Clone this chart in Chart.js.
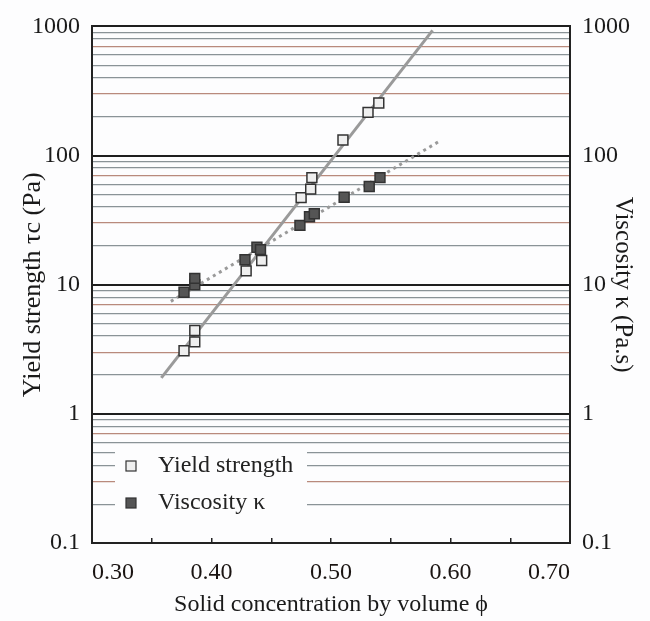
<!DOCTYPE html>
<html>
<head>
<meta charset="utf-8">
<script src="https://cdn.jsdelivr.net/npm/chart.js@4.4.0/dist/chart.umd.min.js"></script>
<style>
  html, body { margin: 0; padding: 0; background: #fdfdfe; }
  #wrap { width: 650px; height: 621px; }
</style>
</head>
<body>
<div id="wrap"><canvas id="c"></canvas></div>
<script>
// values
var phiYield = [0.377, 0.386, 0.386, 0.429, 0.442, 0.475, 0.483, 0.484, 0.510, 0.531, 0.540];
var yieldStrength = [3.08, 3.61, 4.42, 12.8, 15.4, 47.2, 55, 67.5, 132, 216, 255];
var phiVisc = [0.377, 0.386, 0.386, 0.428, 0.438, 0.441, 0.474, 0.482, 0.486, 0.511, 0.532, 0.541];
var viscosity = [8.75, 9.98, 11.2, 15.6, 19.5, 18.7, 28.8, 33.6, 35.4, 47.5, 57.6, 67.5];

// trend lines, end points only
var phiYieldFit = [0.358, 0.585];
var yieldFit = [1.90, 931];
var phiViscFit = [0.366, 0.590];
var viscFit = [7.43, 128];

// axes
var xTicks = [0.30, 0.35, 0.40, 0.45, 0.50, 0.55, 0.60, 0.65, 0.70];
var xLabels = ["0.30", "", "0.40", "", "0.50", "", "0.60", "", "0.70"];
var decades = [0.1, 1, 10, 100];
var mantissas = [1, 2, 3, 4, 5, 6, 7, 8, 9];
var yTop = 1000;

var FONT = "'Liberation Serif', 'Times New Roman', serif";

function toPoints(xs, ys) {
  var pts = [];
  for (var i = 0; i < xs.length; i++) pts.push({ x: xs[i], y: ys[i] });
  return pts;
}

// log grid: every mantissa of every decade
var yTicks = [];
for (var d = 0; d < decades.length; d++) {
  for (var m = 0; m < mantissas.length; m++) {
    yTicks.push({ value: decades[d] * mantissas[m], m: mantissas[m] });
  }
}
yTicks.push({ value: yTop, m: 1 });

function setLogTicks(scale) {
  scale.ticks = yTicks.map(function (t) { return { value: t.value, m: t.m }; });
}
function logLabel(value, index) {
  var t = yTicks[index];
  if (!t || t.m !== 1) return "";
  return String(+t.value.toPrecision(3));
}
function gridColor(ctx) {
  var t = yTicks[ctx.index];
  if (!t) return "#888";
  if (t.m === 1) return "#1e1e1e";
  if (t.m === 3 || t.m === 7) return "#b98a7c";
  return "#8a9397";
}
function gridWidth(ctx) {
  var t = yTicks[ctx.index];
  return t && t.m === 1 ? 2 : 1.2;
}

// legend drawn inside the plot, on a white patch
var innerLegend = {
  id: "innerLegend",
  afterDraw: function (chart) {
    var ctx = chart.ctx;
    var sets = chart.data.datasets.filter(function (ds) { return !ds.showLine; });
    ctx.save();
    ctx.fillStyle = "#fdfdfe";
    ctx.fillRect(115, 447, 192, 65);
    ctx.font = "24px " + FONT;
    ctx.textBaseline = "middle";
    ctx.textAlign = "left";
    for (var i = 0; i < sets.length; i++) {
      var cy = 466 + i * 37;
      ctx.fillStyle = sets[i].backgroundColor;
      ctx.strokeStyle = sets[i].borderColor;
      ctx.lineWidth = 1.2;
      ctx.fillRect(126, cy - 5, 10, 10);
      ctx.strokeRect(126, cy - 5, 10, 10);
      ctx.fillStyle = "#222";
      ctx.fillText(sets[i].label, 158, cy);
    }
    ctx.restore();
  }
};

var yieldPoints = toPoints(phiYield, yieldStrength);
var viscPoints = toPoints(phiVisc, viscosity);

new Chart(document.getElementById("c"), {
  type: "scatter",
  data: {
    datasets: [
      {
        label: "Yield strength",
        data: yieldPoints,
        yAxisID: "y",
        pointStyle: "rect",
        pointRadius: 7,
        backgroundColor: "#efefef",
        borderColor: "#333333",
        borderWidth: 1.5,
        order: 0,
      },
      {
        label: "Viscosity κ",
        data: viscPoints,
        yAxisID: "y2",
        pointStyle: "rect",
        pointRadius: 7,
        backgroundColor: "#555555",
        borderColor: "#333333",
        borderWidth: 1.5,
        order: 0,
      },
      {
        label: "Yield strength fit",
        data: toPoints(phiYieldFit, yieldFit),
        yAxisID: "y",
        showLine: true,
        pointRadius: 0,
        borderColor: "#9a9a9a",
        borderWidth: 3,
        order: 1,
      },
      {
        label: "Viscosity fit",
        data: toPoints(phiViscFit, viscFit),
        yAxisID: "y2",
        showLine: true,
        pointRadius: 0,
        borderColor: "#9a9a9a",
        borderWidth: 3,
        borderDash: [3, 4],
        order: 1,
      },
    ],
  },
  options: {
    responsive: true,
    maintainAspectRatio: false,
    animation: false,
    events: [],
    layout: { padding: { top: 20, left: 0, right: 0, bottom: 0 } },
    plugins: { legend: { display: false }, tooltip: { enabled: false } },
    scales: {
      x: {
        type: "linear",
        position: "bottom",
        min: 0.3,
        max: 0.7,
        afterBuildTicks: function (scale) {
          scale.ticks = xTicks.map(function (v) { return { value: v }; });
        },
        afterFit: function (scale) { scale.height = 78; },
        grid: { drawOnChartArea: false, drawTicks: true, tickLength: -5, color: "#222", lineWidth: 1.5 },
        border: { color: "#222", width: 2 },
        ticks: {
          autoSkip: false,
          maxRotation: 0,
          align: "inner",
          padding: 20,
          color: "#1a1412",
          font: { family: FONT, size: 24 },
          callback: function (v, i) { return xLabels[i]; },
        },
        title: {
          display: true,
          text: "Solid concentration by volume ϕ",
          color: "#1a1a1a",
          font: { family: FONT, size: 24 },
          padding: { top: 0, bottom: 2 },
        },
      },
      y: {
        type: "logarithmic",
        position: "left",
        min: 0.1,
        max: 1000,
        afterBuildTicks: setLogTicks,
        afterFit: function (scale) { scale.width = 92; },
        grid: { drawTicks: false, color: gridColor, lineWidth: gridWidth },
        border: { color: "#222", width: 2 },
        ticks: {
          autoSkip: false,
          padding: 12,
          color: "#1a1a1a",
          font: { family: FONT, size: 24 },
          callback: logLabel,
        },
        title: {
          display: true,
          text: "Yield strength τc (Pa)",
          color: "#1a1a1a",
          font: { family: FONT, size: 26 },
          padding: { top: 18, bottom: 0 },
        },
      },
      y2: {
        type: "logarithmic",
        position: "right",
        min: 0.1,
        max: 1000,
        afterBuildTicks: setLogTicks,
        afterFit: function (scale) { scale.width = 80; },
        grid: { drawOnChartArea: false, drawTicks: false },
        border: { color: "#222", width: 2 },
        ticks: {
          autoSkip: false,
          padding: 12,
          color: "#1a1a1a",
          font: { family: FONT, size: 24 },
          callback: logLabel,
        },
        title: {
          display: true,
          text: "Viscosity κ (Pa.s)",
          color: "#1a1a1a",
          font: { family: FONT, size: 25 },
          padding: { top: 12, bottom: 0 },
        },
      },
    },
  },
  plugins: [innerLegend],
});
</script>
</body>
</html>
